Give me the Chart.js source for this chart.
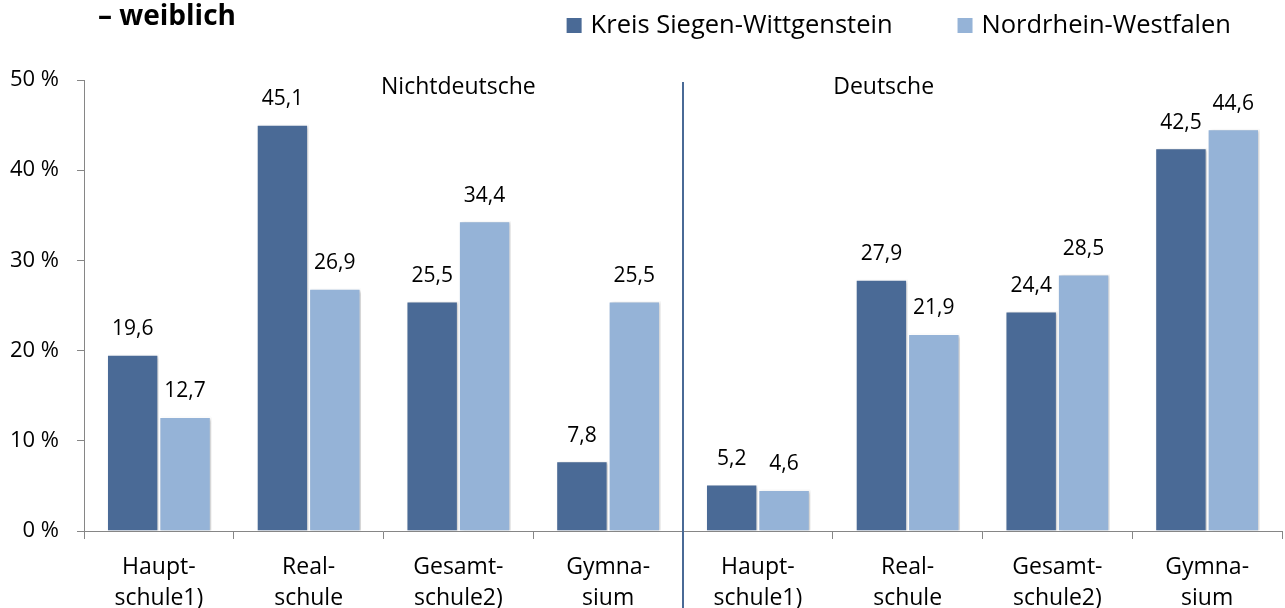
<!DOCTYPE html>
<html><head><meta charset="utf-8">
<script src="https://cdn.jsdelivr.net/npm/chart.js@4"></script>
<style>html,body{margin:0;padding:0;background:#fff;overflow:hidden}#wrap{width:1285px;height:608px;position:relative}</style>
</head><body><div id="wrap"><canvas id="c" width="1285" height="608"></canvas></div>
<script>
const titleText = '\u2013 weiblich';
const categories = [['Haupt-','schule1)'],['Real-','schule'],['Gesamt-','schule2)'],['Gymna-','sium'],
                    ['Haupt-','schule1)'],['Real-','schule'],['Gesamt-','schule2)'],['Gymna-','sium']];
const seriesNames = ['Kreis Siegen-Wittgenstein','Nordrhein-Westfalen'];
const kreisValues = [19.6, 45.1, 25.5, 7.8, 5.2, 27.9, 24.4, 42.5];
const nrwValues   = [12.7, 26.9, 34.4, 25.5, 4.6, 21.9, 28.5, 44.6];
const yTicks = [0, 10, 20, 30, 40, 50];
const groupLabels = ['Nichtdeutsche', 'Deutsche'];
const groupLabelIndex = [2, 4.84];
const dividerAfterIndex = 3;

const DARK = '#4A6A96', LIGHT = '#95B3D7', AXIS = '#868686';
const FONT = "'Open Sans', 'DejaVu Sans', sans-serif";

const extras = {
  id: 'extras',
  beforeDatasetsDraw(chart) {
    const ctx = chart.ctx;
    ctx.save();
    ctx.shadowColor = 'rgba(0,0,0,0.2)';
    ctx.shadowOffsetX = 2; ctx.shadowOffsetY = 1; ctx.shadowBlur = 3;
  },
  afterDatasetsDraw(chart) {
    const ctx = chart.ctx, xs = chart.scales.x, ys = chart.scales.y;
    ctx.restore();
    ctx.save();
    // divider line
    const dx = (xs.getPixelForValue(dividerAfterIndex) + xs.getPixelForValue(dividerAfterIndex + 1)) / 2;
    ctx.strokeStyle = DARK; ctx.lineWidth = 2;
    ctx.beginPath(); ctx.moveTo(dx, ys.getPixelForValue(50) + 2); ctx.lineTo(dx, chart.height); ctx.stroke();
    // data labels
    ctx.fillStyle = '#000'; ctx.textAlign = 'center'; ctx.textBaseline = 'middle';
    ctx.font = '21px ' + FONT;
    chart.data.datasets.forEach((ds, di) => {
      chart.getDatasetMeta(di).data.forEach((el, i) => {
        ctx.fillText(ds.data[i].toFixed(1).replace('.', ','), el.x, el.y - 25);
      });
    });
    // group labels
    ctx.font = '23px ' + FONT;
    groupLabels.forEach((t, i) => {
      const v = groupLabelIndex[i], f = Math.floor(v), r = v - f;
      const px = xs.getPixelForValue(f) + r * (xs.getPixelForValue(f + 1) - xs.getPixelForValue(f));
      ctx.fillText(t, px, 87);
    });
    ctx.restore();
  },
  afterDraw(chart) {
    const ctx = chart.ctx;
    ctx.save();
    ctx.fillStyle = '#000'; ctx.textBaseline = 'alphabetic'; ctx.textAlign = 'left';
    ctx.font = 'bold 28px ' + FONT;
    ctx.fillText(titleText, 98, 25);
    // legend
    ctx.font = '25.5px ' + FONT; ctx.textBaseline = 'middle';
    const colors = [DARK, LIGHT];
    let right = 1231;
    const pos = [];
    for (let i = seriesNames.length - 1; i >= 0; i--) {
      const w = ctx.measureText(seriesNames[i]).width;
      const tx = right - w;
      pos[i] = tx;
      right = tx - 24 - 65;
    }
    seriesNames.forEach((n, i) => {
      ctx.fillStyle = colors[i];
      ctx.fillRect(pos[i] - 24, 18, 15, 15);
      ctx.fillStyle = '#000';
      ctx.fillText(n, pos[i], 26);
    });
    ctx.restore();
  }
};

new Chart(document.getElementById('c'), {
  type: 'bar',
  data: {
    labels: categories,
    datasets: [
      { label: seriesNames[0], data: kreisValues, backgroundColor: DARK, borderColor: '#fff',
        borderWidth: {top: 1.5, left: 1.5, right: 1.5, bottom: 0}, categoryPercentage: 0.7, barPercentage: 1.0 },
      { label: seriesNames[1], data: nrwValues, backgroundColor: LIGHT, borderColor: '#fff',
        borderWidth: {top: 1.5, left: 1.5, right: 1.5, bottom: 0}, categoryPercentage: 0.7, barPercentage: 1.0 }
    ]
  },
  options: {
    responsive: false, animation: false, devicePixelRatio: 1,
    layout: { padding: { top: 80, right: 3, left: 0, bottom: 0 } },
    plugins: { legend: { display: false }, title: { display: false }, tooltip: { enabled: false } },
    scales: {
      x: {
        grid: { offset: true, drawOnChartArea: false, drawTicks: true, tickLength: 8, color: AXIS },
        border: { display: true, color: AXIS, width: 1 },
        ticks: { color: '#000', padding: 13, maxRotation: 0, autoSkip: false,
                 font: { family: FONT, size: 23, lineHeight: 31 / 23 } },
        afterFit: s => { s.height = 77; }
      },
      y: {
        min: 0, max: 50,
        grid: { drawOnChartArea: false, drawTicks: true, tickLength: 7, color: AXIS },
        border: { display: true, color: AXIS, width: 1 },
        ticks: { color: '#000', padding: 18, font: { family: FONT, size: 22 },
                 callback: v => v + ' %' },
        afterBuildTicks: s => { s.ticks = yTicks.map(v => ({ value: v })); },
        afterFit: s => { s.width = 84; }
      }
    }
  },
  plugins: [extras]
});
</script></body></html>
